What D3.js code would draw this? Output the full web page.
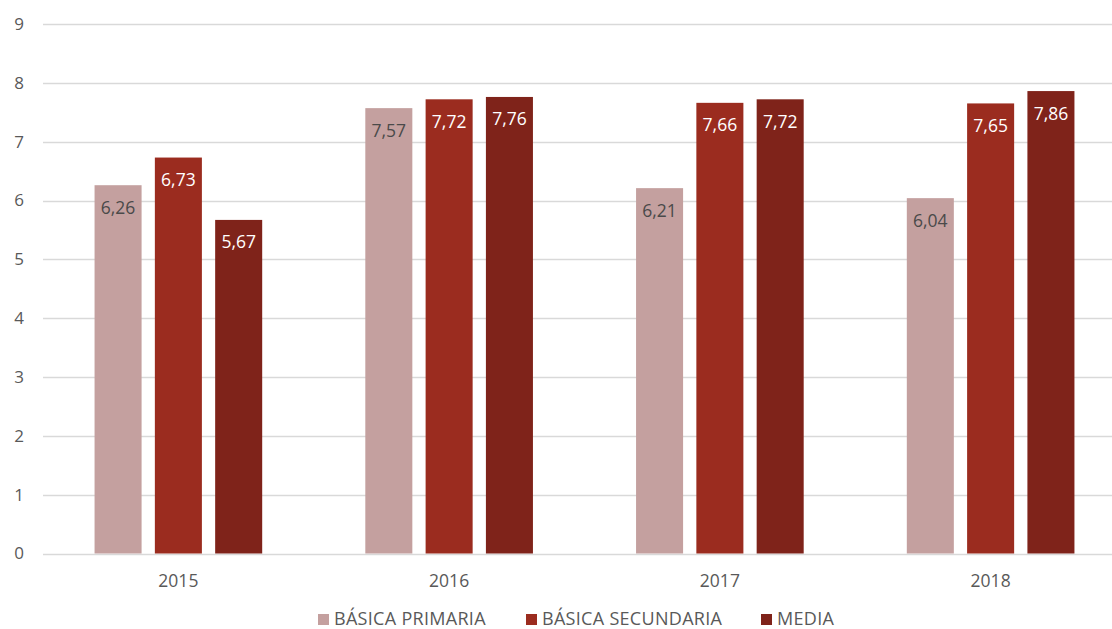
<!DOCTYPE html>
<html><head><meta charset="utf-8">
<script src="https://cdn.jsdelivr.net/npm/d3@7"></script>
<style>body{margin:0;background:#fff}svg{display:block}text{font-family:"Open Sans",sans-serif}</style>
</head><body><svg id="c" width="1112" height="629"></svg>
<script>
const categories = ["2015","2016","2017","2018"];
const seriesNames = ["BÁSICA PRIMARIA","BÁSICA SECUNDARIA","MEDIA"];
const primaria = [6.26, 7.57, 6.21, 6.04];
const secundaria = [6.73, 7.72, 7.66, 7.65];
const media = [5.67, 7.76, 7.72, 7.86];
const yTicks = [0,1,2,3,4,5,6,7,8,9];
const colors = ["#C4A09F","#9B2C1F","#7F231A"];
const labelColors = ["#4a4a4a","#ffffff","#ffffff"];

const series = [primaria, secundaria, media];
const svg = d3.select("#c");
const FONT = "'Open Sans',sans-serif";
const y = d3.scaleLinear().domain([0,9]).range([553.5,24]);
const x = d3.scaleBand().domain(categories).range([43,1126]).paddingInner(0).paddingOuter(0);
const xs = d3.scaleBand().domain(d3.range(3)).range([0, x.bandwidth()]).paddingInner(0.22).paddingOuter(0.855);

// gridlines
svg.append("g").selectAll("line").data(yTicks).join("line")
  .attr("x1",43).attr("x2",1112)
  .attr("y1",d=>Math.round(y(d))+0.5).attr("y2",d=>Math.round(y(d))+0.5)
  .attr("stroke","#d9d9d9").attr("stroke-width",1.3);

// y axis labels
const yAxis = d3.axisLeft(y).tickValues(yTicks).tickSize(0).tickPadding(0).tickFormat(d3.format("d"));
const ga = svg.append("g").attr("transform","translate(24,0)").call(yAxis);
ga.select(".domain").remove();
ga.selectAll("text").attr("fill","#595959").style("font-size","17px").style("font-family",FONT);

// x labels
const xAxis = d3.axisBottom(x).tickSize(0).tickPadding(0);
const gx = svg.append("g").attr("transform","translate(0,587)").call(xAxis);
gx.select(".domain").remove();
gx.selectAll("text").attr("dy",null).attr("fill","#595959").style("font-size","17.5px").style("font-family",FONT);

const fmt = v => v.toFixed(2).replace(".",",");
series.forEach((vals,si)=>{
  const g = svg.append("g");
  g.selectAll("rect").data(vals).join("rect")
    .attr("x",(d,i)=>x(categories[i])+xs(si))
    .attr("width",xs.bandwidth())
    .attr("y",d=>y(d)).attr("height",d=>y(0)-y(d))
    .attr("fill",colors[si]);
  g.selectAll("text").data(vals).join("text")
    .attr("x",(d,i)=>x(categories[i])+xs(si)+xs.bandwidth()/2)
    .attr("y",d=>y(d)+28.5)
    .attr("text-anchor","middle").attr("fill",labelColors[si])
    .style("font-size","17.5px").text(fmt);
});

// legend
const legX = [318, 526, 761];
const lg = svg.append("g");
seriesNames.forEach((n,i)=>{
  lg.append("rect").attr("x",legX[i]).attr("y",614).attr("width",11).attr("height",11).attr("fill",colors[i]);
  lg.append("text").attr("x",legX[i]+16).attr("y",625).attr("fill","#595959")
    .style("font-size","18px").style("letter-spacing","0.3px").text(n);
});
</script></body></html>
